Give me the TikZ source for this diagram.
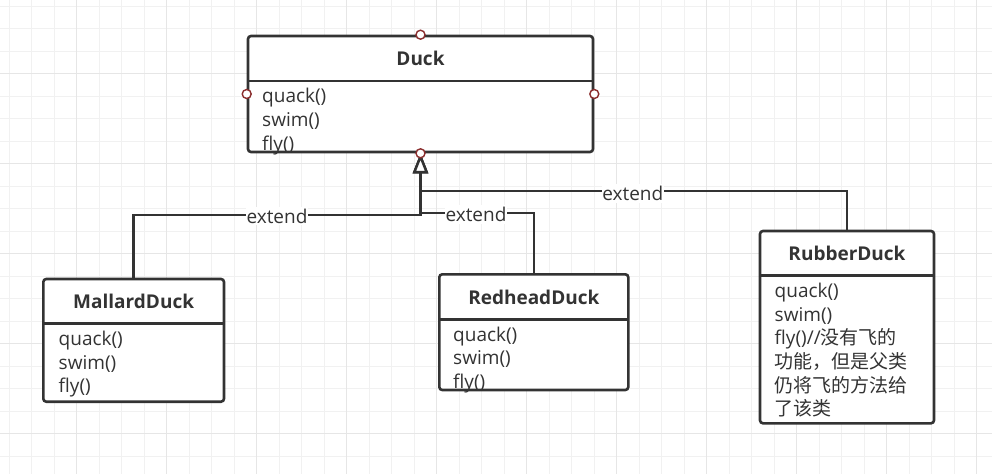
\documentclass[tikz,border=0pt]{standalone}
\usepackage{fontspec}
\setmainfont{Open Sans}
\newfontfamily\cjk{Noto Sans CJK SC}
\usetikzlibrary{arrows.meta}
\definecolor{ink}{HTML}{333333}
\definecolor{port}{HTML}{8B2E2E}
\definecolor{gridminor}{HTML}{F1F1F1}
\definecolor{gridmajor}{HTML}{E6E6E6}
\begin{document}
\begin{tikzpicture}[x=1pt,y=-1pt,
  cls/.style={draw=ink, line width=2.6pt, rounded corners=3pt, fill=white, inner sep=0pt},
  divline/.style={draw=ink, line width=2.6pt},
  title/.style={font=\fontsize{19}{24}\selectfont\bfseries, text=ink, anchor=base, inner sep=0pt},
  meth/.style={font=\fontsize{19}{23.7}\selectfont, text=ink, anchor=base west, align=left, inner sep=0pt},
  ext/.style={draw=ink, line width=2.4pt, -{Triangle[length=20pt, width=15pt, fill=white]}},
  lbl/.style={font=\fontsize{19}{24}\selectfont, text=ink, fill=white, anchor=base, inner xsep=0.5pt, inner ysep=2pt},
  portc/.style={circle, draw=port, fill=white, line width=1.4pt, minimum size=9pt, inner sep=0pt},
]
\useasboundingbox (0,0) rectangle (992,474);
\fill[white] (0,0) rectangle (992,474);
% grid
\foreach \i in {0,...,43} {\draw[gridminor, line width=1pt] ({9.3+22.5*\i},0) -- ++(0,474);}
\foreach \j in {0,...,20} {\draw[gridminor, line width=1pt] (0,{6+22.5*\j}) -- ++(992,0);}
\foreach \i in {0,...,10} {\draw[gridmajor, line width=1pt] ({76.8+90*\i},0) -- ++(0,474);}
\foreach \j in {0,...,4} {\draw[gridmajor, line width=1pt] (0,{73.5+90*\j}) -- ++(992,0);}

% classes (method nodes anchored at the baseline of their last line)
\node[cls, minimum width=345pt, minimum height=116pt] (duck) at (420.5,94) {};
\node[title] (duckt) at (420.5,65.7) {Duck};
\draw[divline] (248,81) -- (593,81);
\node[meth] (duckm) at (262,150.1) {quack()\\swim()\\fly()};

\node[cls, minimum width=180.7pt, minimum height=122.7pt] (mallard) at (133.65,340.35) {};
\node[title] (mallardt) at (133.65,308.7) {MallardDuck};
\draw[divline] (43.3,323.7) -- (224,323.7);
\node[meth] (mallardm) at (58.5,392.8) {quack()\\swim()\\fly()};

\node[cls, minimum width=189pt, minimum height=115.7pt] (redhead) at (533.8,332.15) {};
\node[title] (redheadt) at (533.8,304) {RedheadDuck};
\draw[divline] (439.3,319.3) -- (628.3,319.3);
\node[meth] (redheadm) at (453,388.4) {quack()\\swim()\\fly()};

\node[cls, minimum width=174pt, minimum height=192.3pt] (rubber) at (847,327.15) {};
\node[title] (rubbert) at (847,260.7) {RubberDuck};
\draw[divline] (760,275.7) -- (934,275.7);
\node[meth] (rubberm) at (774.5,415.9) {quack()\\swim()\\fly()//{\cjk 没有飞的}\\{\cjk 功能，但是父类}\\{\cjk 仍将飞的方法给}\\{\cjk 了该类}};

% connectors
\coordinate (jm) at (420.5,215);
\coordinate (jr) at (420.5,213);
\coordinate (jb) at (420.5,191);
\draw[ext] (mallard.north) |- (jm) -- (duck.south);
\draw[ext] (redhead.north) |- (jr) -- (duck.south);
\draw[ext] (rubber.north) |- (jb) -- (duck.south);

\node[lbl] (lm) at (277,223.3) {extend};
\node[lbl] (lr) at (476,221.7) {extend};
\node[lbl] (lb) at (632.8,200.7) {extend};

% ports
\node[portc] (pn) at (duck.north) {};
\node[portc] (pw) at (duck.west) {};
\node[portc] (pe) at (duck.east) {};
\node[portc] (ps) at (duck.south) {};
\end{tikzpicture}
\end{document}
